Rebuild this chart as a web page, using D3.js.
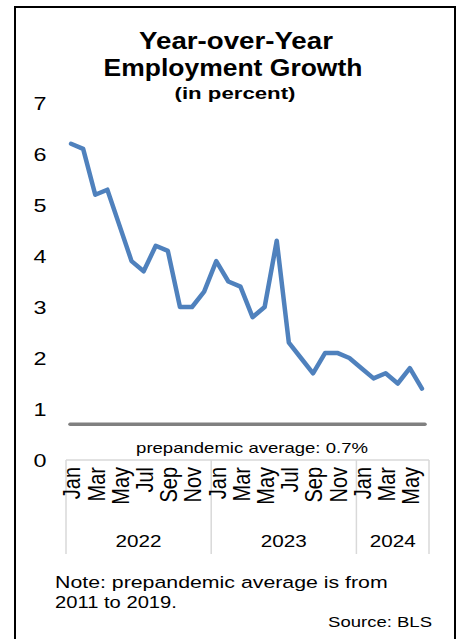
<!DOCTYPE html>
<html>
<head>
<meta charset="utf-8">
<script src="https://cdn.jsdelivr.net/npm/d3@7"></script>
<style>
body { margin: 0; background: #fff; }
text { font-family: "Liberation Sans", Arial, sans-serif; fill: #000; }
</style>
</head>
<body>
<svg id="chart" width="459" height="639"></svg>
<script>
const months = ["Jan","Feb","Mar","Apr","May","Jun","Jul","Aug","Sep","Oct","Nov","Dec",
                "Jan","Feb","Mar","Apr","May","Jun","Jul","Aug","Sep","Oct","Nov","Dec",
                "Jan","Feb","Mar","Apr","May","Jun"];
const years = ["2022","2023","2024"];
const yearCounts = [12, 12, 6];
const growth = [6.2, 6.1, 5.2, 5.3, 4.6, 3.9, 3.7, 4.2, 4.1, 3.0, 3.0, 3.3,
                3.9, 3.5, 3.4, 2.8, 3.0, 4.3, 2.3, 2.0, 1.7, 2.1, 2.1, 2.0,
                1.8, 1.6, 1.7, 1.5, 1.8, 1.4];
const prepandemicAvg = 0.7;
const yTicks = [0, 1, 2, 3, 4, 5, 6, 7];

(function () {
const svg = d3.select("#chart");
const mLeft = 66, mRight = 429, mTop = 103, mBottom = 460;

// stretch a text horizontally to a target width (the reference text is wide)
function fit(sel, w) {
  const n = sel.node().getComputedTextLength();
  const tx = +sel.attr("x"), ty = +sel.attr("y");
  sel.attr("x", 0).attr("y", 0)
     .attr("transform", `translate(${tx},${ty}) scale(${w / n},1)`);
  return sel;
}

// frame
svg.append("rect").attr("x", 15).attr("y", 7).attr("width", 440).attr("height", 640)
  .attr("fill", "none").attr("stroke", "#000").attr("stroke-width", 2);

// titles
fit(svg.append("text").attr("x", 236).attr("y", 49).attr("text-anchor", "middle")
  .attr("font-size", 23).attr("font-weight", "bold").text("Year-over-Year"), 194);
fit(svg.append("text").attr("x", 233).attr("y", 76).attr("text-anchor", "middle")
  .attr("font-size", 23).attr("font-weight", "bold").text("Employment Growth"), 259);
fit(svg.append("text").attr("x", 235).attr("y", 99).attr("text-anchor", "middle")
  .attr("font-size", 17).attr("font-weight", "bold").text("(in percent)"), 121);

const idx = d3.range(months.length);
const x = d3.scaleBand().domain(idx).range([mLeft, mRight]).paddingInner(0).paddingOuter(0);
const y = d3.scaleLinear().domain([0, 7]).range([mBottom, mTop]);

// y axis labels
const yAxis = d3.axisLeft(y).tickValues(yTicks).tickSize(0).tickPadding(0).tickFormat(d3.format("d"));
const ya = svg.append("g").attr("transform", "translate(40,0)").call(yAxis);
ya.select(".domain").remove();
ya.selectAll("text").attr("font-size", 18).attr("font-family", "Liberation Sans, Arial, sans-serif")
  .attr("text-anchor", "middle").attr("x", 0).attr("dy", "0.35em").attr("fill", "#000")
  .attr("transform", "scale(1.3,1)");

// category axis
const grid = "#d9d9d9";
svg.append("line").attr("x1", mLeft).attr("x2", mRight).attr("y1", mBottom).attr("y2", mBottom)
  .attr("stroke", grid).attr("stroke-width", 1.5);
let acc = 0;
const bounds = [0];
yearCounts.forEach(c => { acc += c; bounds.push(acc); });
bounds.forEach(b => {
  const xx = b < months.length ? x(b) : x(months.length - 1) + x.bandwidth();
  svg.append("line").attr("x1", xx).attr("x2", xx).attr("y1", mBottom).attr("y2", 554)
    .attr("stroke", grid).attr("stroke-width", 1.5);
});

// month labels (every other)
const xAxis = d3.axisBottom(x).tickValues(idx.filter(i => i % 2 === 0))
  .tickSize(0).tickFormat(i => months[i]);
const xa = svg.append("g").attr("transform", `translate(0,${mBottom})`).call(xAxis);
xa.select(".domain").remove();
xa.selectAll("text")
  .attr("font-size", 20).attr("font-family", "Liberation Sans, Arial, sans-serif")
  .attr("text-anchor", "end").attr("transform", "rotate(-90) scale(1,1.18)").attr("fill", "#000")
  .attr("x", -7).attr("y", 0).attr("dy", "0.35em");

// year labels
years.forEach((yr, i) => {
  const x0 = x(bounds[i]);
  const x1 = bounds[i + 1] < months.length ? x(bounds[i + 1]) : mRight;
  fit(svg.append("text").attr("x", (x0 + x1) / 2).attr("y", 547).attr("text-anchor", "middle")
    .attr("font-size", 16).text(yr), 46);
});

// prepandemic line
svg.append("line").attr("x1", x(0) + 4).attr("x2", x(months.length - 1) + x.bandwidth() - 4)
  .attr("y1", y(prepandemicAvg)).attr("y2", y(prepandemicAvg))
  .attr("stroke", "#808080").attr("stroke-width", 3.5).attr("stroke-linecap", "round");
fit(svg.append("text").attr("x", 252).attr("y", 453).attr("text-anchor", "middle")
  .attr("font-size", 14).text("prepandemic average: 0.7%"), 232);

// series line
const line = d3.line().x((d, i) => x(i) + x.bandwidth() / 2 - 1).y(d => y(d));
svg.append("path").datum(growth).attr("d", line).attr("fill", "none")
  .attr("stroke", "#4F81BD").attr("stroke-width", 4.5)
  .attr("stroke-linejoin", "round").attr("stroke-linecap", "round");

// notes
fit(svg.append("text").attr("x", 55).attr("y", 588).attr("font-size", 16.5)
  .text("Note: prepandemic average is from"), 333);
fit(svg.append("text").attr("x", 55).attr("y", 608).attr("font-size", 16.5)
  .text("2011 to 2019."), 122);
fit(svg.append("text").attr("x", 432).attr("y", 627).attr("text-anchor", "end")
  .attr("font-size", 15).text("Source: BLS"), 104);
})();
</script>
</body>
</html>
